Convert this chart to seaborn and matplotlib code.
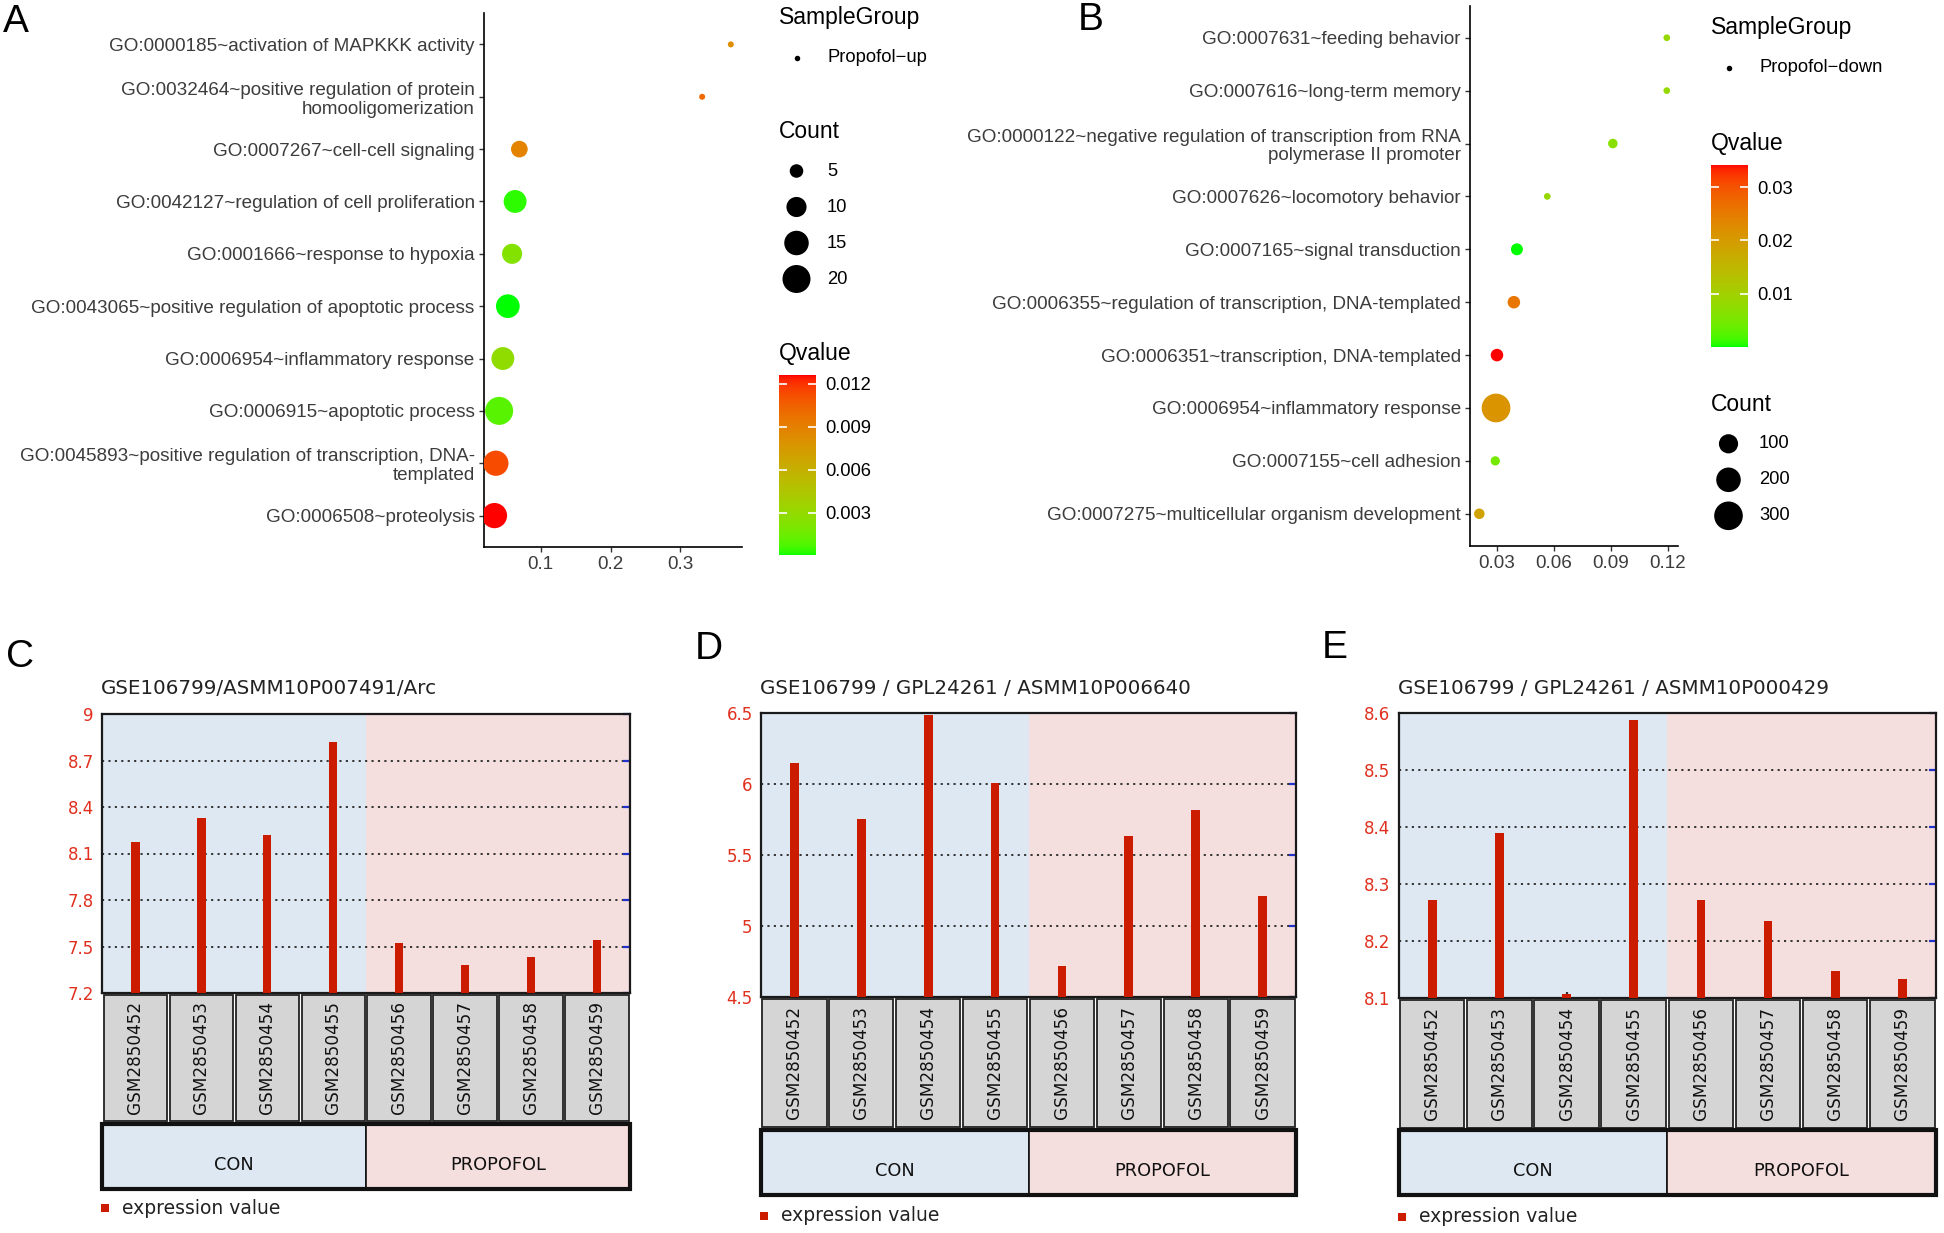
# -*- coding: utf-8 -*-
"""
GO enrichment bubble plots (A, B) and GEO expression profiles (C, D, E)
"""

# %% Import Libraries

import numpy as np
import pandas as pd
import matplotlib
matplotlib.use("Agg")
import matplotlib.pyplot as plt
from matplotlib.colors import ListedColormap, Normalize
from matplotlib.cm import ScalarMappable
from matplotlib.patches import Rectangle
import seaborn as sns

plt.rcParams['font.family'] = ['Liberation Sans', 'DejaVu Sans']

# %% Data - panel A (Propofol-up)

terms_a = ["GO:0000185~activation of MAPKKK activity",
           "GO:0032464~positive regulation of protein\nhomooligomerization",
           "GO:0007267~cell-cell signaling",
           "GO:0042127~regulation of cell proliferation",
           "GO:0001666~response to hypoxia",
           "GO:0043065~positive regulation of apoptotic process",
           "GO:0006954~inflammatory response",
           "GO:0006915~apoptotic process",
           "GO:0045893~positive regulation of transcription, DNA-\ntemplated",
           "GO:0006508~proteolysis"]
ratio_a = [0.372, 0.331, 0.0695, 0.0634, 0.0591, 0.053, 0.0459, 0.0406, 0.0359, 0.0339]
count_a = [3, 3, 7, 13, 10, 14, 13, 20, 16, 16]
qvalue_a = [0.0082, 0.0101, 0.0088, 0.0003, 0.0023, 0.00002, 0.0028, 0.001, 0.0113, 0.0126]
count_breaks_a = [5, 10, 15, 20]
q_breaks_a = [0.003, 0.006, 0.009, 0.012]

# %% Data - panel B (Propofol-down)

terms_b = ["GO:0007631~feeding behavior",
           "GO:0007616~long-term memory",
           "GO:0000122~negative regulation of transcription from RNA\npolymerase II promoter",
           "GO:0007626~locomotory behavior",
           "GO:0007165~signal transduction",
           "GO:0006355~regulation of transcription, DNA-templated",
           "GO:0006351~transcription, DNA-templated",
           "GO:0006954~inflammatory response",
           "GO:0007155~cell adhesion",
           "GO:0007275~multicellular organism development"]
ratio_b = [0.1194, 0.1194, 0.091, 0.0565, 0.0405, 0.0389, 0.030, 0.0295, 0.0291, 0.0207]
count_b = [4, 4, 9, 4, 21, 25, 25, 302, 8, 13]
qvalue_b = [0.0082, 0.0082, 0.0068, 0.0085, 0.00005, 0.0257, 0.0342, 0.0212, 0.0048, 0.0188]
count_breaks_b = [100, 200, 300]
q_breaks_b = [0.01, 0.02, 0.03]

# %% Data - panels C, D, E (expression values)

samples = ["GSM2850452", "GSM2850453", "GSM2850454", "GSM2850455",
           "GSM2850456", "GSM2850457", "GSM2850458", "GSM2850459"]
groups = ["CON", "CON", "CON", "CON", "PROPOFOL", "PROPOFOL", "PROPOFOL", "PROPOFOL"]
expr_c = [8.177, 8.33, 8.22, 8.82, 7.52, 7.38, 7.435, 7.54]
expr_d = [6.147, 5.755, 6.489, 6.009, 4.72, 5.637, 5.816, 5.209]
expr_e = [8.272, 8.39, 8.1075, 8.588, 8.272, 8.235, 8.147, 8.134]
ticks_c = [7.2, 7.5, 7.8, 8.1, 8.4, 8.7, 9.0]
ticks_d = [4.5, 5.0, 5.5, 6.0, 6.5]
ticks_e = [8.1, 8.2, 8.3, 8.4, 8.5, 8.6]

# %% Helpers

W, H = 1944, 1233
PX = 100 / 72  # pixels per point


def box(l, t, r, b):
    return [l / W, 1 - b / H, (r - l) / W, (b - t) / H]


def lab_gradient(n=256):
    # green -> red interpolated in Lab, like ggplot's scale_colour_gradient
    t = np.linspace(0, 1, n)
    L = 87.73 + t * (53.24 - 87.73)
    a = -86.18 + t * (80.09 + 86.18)
    b = 83.18 + t * (67.20 - 83.18)
    fy = (L + 16) / 116
    fx = fy + a / 500
    fz = fy - b / 200

    def finv(v):
        return np.where(v > 6 / 29, v ** 3, 3 * (6 / 29) ** 2 * (v - 4 / 29))

    xyz = np.vstack([0.95047 * finv(fx), finv(fy), 1.08883 * finv(fz)])
    M = np.array([[3.2406, -1.5372, -0.4986],
                  [-0.9689, 1.8758, 0.0415],
                  [0.0557, -0.2040, 1.0570]])
    rgb = np.clip(M @ xyz, 0, None)
    rgb = np.where(rgb > 0.0031308, 1.055 * rgb ** (1 / 2.4) - 0.055, 12.92 * rgb)
    return ListedColormap(np.clip(rgb.T, 0, 1))


gg_cmap = lab_gradient()


def gg_size(c, cmin, cmax, dmin, dmax):
    d = dmin + (dmax - dmin) * np.sqrt((c - cmin) / (cmax - cmin))
    return (d / PX) ** 2


fig = plt.figure(figsize=(W / 100, H / 100), dpi=100)
ov = fig.add_axes([0, 0, 1, 1])
ov.set_xlim(0, W)
ov.set_ylim(H, 0)
ov.axis('off')

# %% Bubble panels


def dot_panel(px_box, terms, ratio, count, qval, xlim, xticks, dmin, dmax):
    ax = fig.add_axes(box(*px_box))
    df = pd.DataFrame({'Term': terms, 'Ratio': ratio, 'Count': count, 'Qvalue': qval})
    sizes = {c: gg_size(c, min(count), max(count), dmin, dmax) for c in sorted(set(count))}
    sns.scatterplot(data=df, x='Ratio', y='Term', hue='Qvalue', size='Count',
                    palette=gg_cmap, hue_norm=(min(qval), max(qval)), sizes=sizes,
                    linewidth=0, legend=False, ax=ax, zorder=3)
    ax.set_xlim(*xlim)
    ax.set_ylim(len(terms) - 0.4, -0.6)
    ax.set_xticks(xticks)
    ax.set_xticklabels([f"{v:g}" for v in xticks])
    ax.set_xlabel('')
    ax.set_ylabel('')
    for s in ['top', 'right']:
        ax.spines[s].set_visible(False)
    for s in ['left', 'bottom']:
        ax.spines[s].set_linewidth(1.2)
        ax.spines[s].set_color('black')
    ax.tick_params(length=3.5, width=1, color='#333333', labelcolor='#3c3c3c',
                   labelsize=13.6, pad=3)
    for lab in ax.get_yticklabels():
        lab.set_linespacing(1.15)
    ax.patch.set_alpha(0)
    return ax


dot_panel((483.7, 13, 742, 547), terms_a, ratio_a, count_a, qvalue_a,
          (0.0185, 0.388), [0.1, 0.2, 0.3], 6, 28)
dot_panel((1470, 6, 1678, 545.5), terms_b, ratio_b, count_b, qvalue_b,
          (0.0158, 0.1253), [0.03, 0.06, 0.09, 0.12], 6.7, 28.7)


def gg_legends(x, sg_y, sg_text, cnt_y, breaks, count, dmin, dmax,
               q_y, cbar_px, qval, qbreaks):
    ov.text(x, sg_y, "SampleGroup", fontsize=16.5, va='center', ha='left')
    ov.scatter([x + 17.5], [sg_y + 40], s=(5.5 / PX) ** 2, c='black', linewidth=0)
    ov.text(x + 48, sg_y + 40, sg_text, fontsize=13.2, va='center', ha='left')

    ov.text(x, cnt_y, "Count", fontsize=16.5, va='center', ha='left')
    ys = [cnt_y + 39.6 + i * 36 for i in range(len(breaks))]
    ov.scatter([x + 17.5] * len(breaks), ys,
               s=[gg_size(v, min(count), max(count), dmin, dmax) for v in breaks],
               c='black', linewidth=0)
    for yy, v in zip(ys, breaks):
        ov.text(x + 48, yy, str(v), fontsize=13.2, va='center', ha='left')

    ov.text(x, q_y, "Qvalue", fontsize=16.5, va='center', ha='left')
    cax = fig.add_axes(box(*cbar_px))
    cb = fig.colorbar(ScalarMappable(norm=Normalize(min(qval), max(qval)), cmap=gg_cmap),
                      cax=cax)
    cb.outline.set_visible(False)
    cb.set_ticks(qbreaks)
    cb.ax.set_yticklabels([f"{v:g}" if v >= 0.01 and len(qbreaks) == 3 else f"{v:.3f}"
                           for v in qbreaks])
    cax.tick_params(axis='y', direction='in', left=True, right=True, color='white',
                    length=6, width=1.2, labelsize=13.2, pad=7, labelcolor='black')


gg_legends(779, 17.5, "Propofol\u2212up", 131.4, count_breaks_a, count_a, 6, 28,
           353.3, (779, 375, 815.7, 555.4), qvalue_a, q_breaks_a)
gg_legends(1711, 27.5, "Propofol\u2212down", 404.2, count_breaks_b, count_b, 6.7, 28.7,
           143.5, (1711, 164.7, 1748, 346.8), qvalue_b, q_breaks_b)

# %% Expression panels

bar_red = '#CC1C00'
tick_red = '#E0301E'
group_colors = {"CON": '#DEE8F2', "PROPOFOL": '#F4DEDE'}
mono = ['DejaVu Sans']


def expr_panel(vals, ticks, title, l, r, t, b, s_bot, g_bot, leg_y):
    ax = fig.add_axes(box(l, t, r, b))
    df = pd.DataFrame({'Sample': samples, 'Group': groups, 'Value': vals})
    sns.barplot(data=df, x='Sample', y='Value', color=bar_red, saturation=1,
                width=0.13, errorbar=None, linewidth=0, ax=ax, zorder=3)
    n = len(samples)
    group_names = list(dict.fromkeys(groups))
    for g in group_names:
        idx = [i for i, gg in enumerate(groups) if gg == g]
        ax.axvspan(min(idx) - 0.5, max(idx) + 0.5, color=group_colors[g], lw=0, zorder=0)
    ax.set_xlim(-0.5, n - 0.5)
    ax.set_ylim(ticks[0], ticks[-1])
    ax.set_yticks(ticks)
    ax.set_yticklabels([f"{v:g}" for v in ticks], family=mono)
    ax.set_axisbelow(True)
    ax.grid(axis='y', linestyle=(0, (1.1, 2.2)), color='#333333', lw=1.4)
    ax.grid(axis='x', visible=False)
    ax.set_xlabel('')
    ax.set_ylabel('')
    for s in ax.spines.values():
        s.set_linewidth(1.6)
        s.set_color('#1a1a1a')
    ax.tick_params(axis='y', left=False, right=True, labelleft=True, labelright=False,
                   direction='in', color='#2233CC', length=5, width=1.6,
                   labelcolor=tick_red, labelsize=12, pad=6)
    ax.tick_params(axis='x', bottom=True, direction='in', length=4, width=1.6,
                   color='#333333', labelbottom=False)

    # sample and group boxes below the plot
    axl = fig.add_axes(box(l, b, r, g_bot))
    axl.set_xlim(-0.5, n - 0.5)
    axl.set_ylim(g_bot, b)
    axl.axis('off')
    for i, s in enumerate(samples):
        axl.add_patch(Rectangle((i - 0.48, b + 1.5), 0.96, s_bot - b - 2.5,
                                fc='#D5D5D5', ec='#222222', lw=1.3))
        axl.text(i, (b + s_bot) / 2, s, rotation=90, ha='center', va='center',
                 fontsize=12.2, family=mono, color='#111111')
    for g in group_names:
        idx = [i for i, gg in enumerate(groups) if gg == g]
        x0 = min(idx) - 0.5
        axl.add_patch(Rectangle((x0, s_bot + 1.5), len(idx), g_bot - s_bot - 3,
                                fc=group_colors[g], ec='#111111', lw=1.2))
        axl.text(x0 + len(idx) / 2, (s_bot + g_bot) / 2 + 9, g, ha='center', va='center',
                 fontsize=12.8, family=mono, color='#111111')
    axl.add_patch(Rectangle((-0.5, s_bot + 1.5), n, g_bot - s_bot - 3,
                            fc='none', ec='#111111', lw=3, clip_on=False))

    ov.text(l - 1, 688, title, fontsize=14.3, family=mono, color='#222222',
            va='center', ha='left')
    ov.scatter([l + 3], [leg_y], marker='s', s=(8 / PX) ** 2, c=bar_red, linewidth=0)
    ov.text(l + 20, leg_y, "expression value", fontsize=13.5, family=mono,
            color='#222222', va='center', ha='left')


expr_panel(expr_c, ticks_c, "GSE106799/ASMM10P007491/Arc",
           102.3, 630, 714, 993, 1122, 1190, 1208)
expr_panel(expr_d, ticks_d, "GSE106799 / GPL24261 / ASMM10P006640",
           761, 1296, 713, 997, 1128, 1196, 1215.7)
expr_panel(expr_e, ticks_e, "GSE106799 / GPL24261 / ASMM10P000429",
           1398.6, 1936, 713, 998, 1128.6, 1196, 1217)

# %% Panel letters

for letter, (lx, ly) in {"A": (16, 22), "B": (1091, 20), "C": (20, 657),
                         "D": (709, 649), "E": (1335, 648)}.items():
    ov.text(lx, ly, letter, fontsize=28, ha='center', va='center')

fig.savefig("out.png", dpi=100)
